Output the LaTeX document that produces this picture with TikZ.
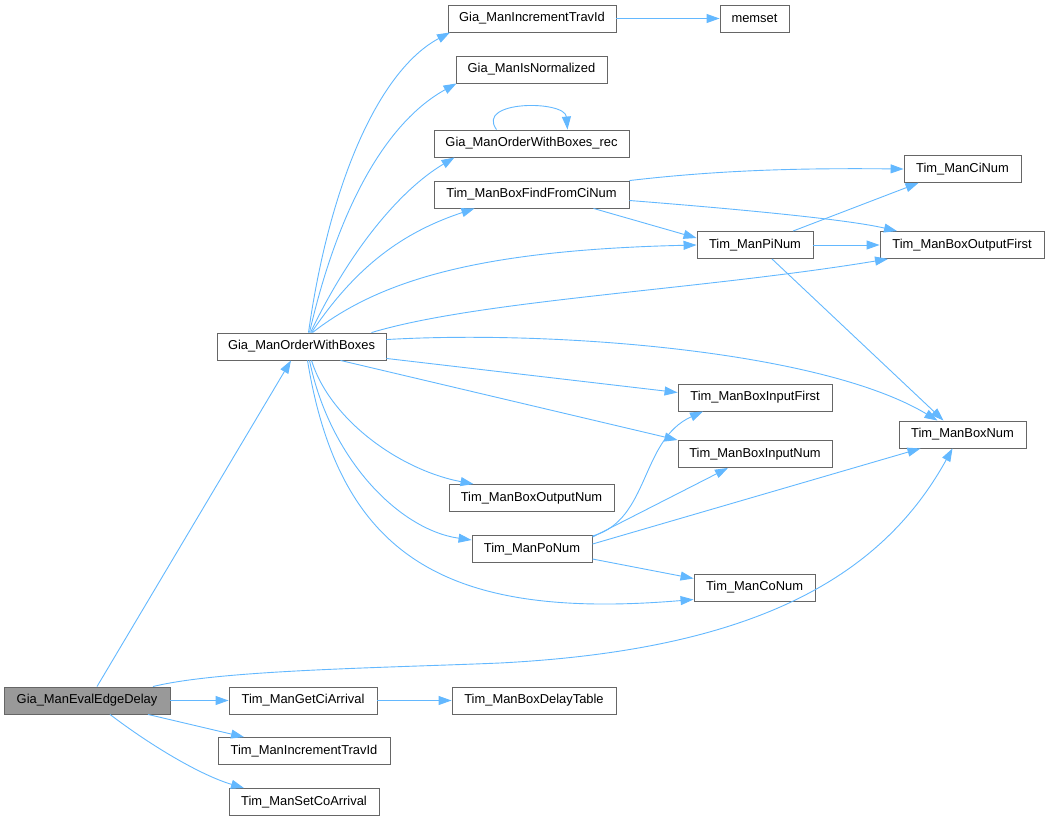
\documentclass[tikz,border=0pt]{standalone}
\usepackage{fontspec}
\setmainfont{Liberation Sans}
\usetikzlibrary{arrows.meta}
\definecolor{edgeblue}{HTML}{63B8FF}
\definecolor{boxline}{HTML}{666666}
\definecolor{rootgray}{HTML}{999999}

\begin{document}
\begin{tikzpicture}[x=1pt, y=-1pt,
  every node/.style={font=\fontsize{12.9}{14}\selectfont, align=center},
  fn/.style={draw=boxline, line width=0.9pt, fill=white, minimum height=27pt, inner sep=0pt},
  call/.style={draw=edgeblue, line width=0.9pt, -{Triangle[length=13pt,width=9pt]}}]
  \useasboundingbox (0,0) rectangle (1049,821);
  % function boxes
  \node[fn, fill=rootgray, minimum width=166pt] (eval) at (87,700.5) {Gia\_ManEvalEdgeDelay};
  \node[fn, minimum width=169pt] (order) at (301.5,346.5) {Gia\_ManOrderWithBoxes};
  \node[fn, minimum width=168pt] (incr) at (532,18.5) {Gia\_ManIncrementTravId};
  \node[fn, minimum width=69pt] (memset) at (754.5,18.5) {memset};
  \node[fn, minimum width=151pt] (isnorm) at (531.5,69.5) {Gia\_ManIsNormalized};
  \node[fn, minimum width=195pt] (rec) at (531.5,143.5) {Gia\_ManOrderWithBoxes\_rec};
  \node[fn, minimum width=195pt] (findci) at (531.5,194.5) {Tim\_ManBoxFindFromCiNum};
  \node[fn, minimum width=117pt] (cinum) at (962.5,169) {Tim\_ManCiNum};
  \node[fn, minimum width=116pt] (pinum) at (755,245) {Tim\_ManPiNum};
  \node[fn, minimum width=164pt] (boxoutfirst) at (962,245) {Tim\_ManBoxOutputFirst};
  \node[fn, minimum width=154pt] (boxinfirst) at (755,397.5) {Tim\_ManBoxInputFirst};
  \node[fn, minimum width=127pt] (boxnum) at (962.5,434.5) {Tim\_ManBoxNum};
  \node[fn, minimum width=154pt] (boxinnum) at (755,454) {Tim\_ManBoxInputNum};
  \node[fn, minimum width=165pt] (boxoutnum) at (531.5,498) {Tim\_ManBoxOutputNum};
  \node[fn, minimum width=120pt] (ponum) at (532,549) {Tim\_ManPoNum};
  \node[fn, minimum width=121pt] (conum) at (754.5,587.5) {Tim\_ManCoNum};
  \node[fn, minimum width=148pt] (getci) at (303,700.5) {Tim\_ManGetCiArrival};
  \node[fn, minimum width=164pt] (delaytab) at (534,700.5) {Tim\_ManBoxDelayTable};
  \node[fn, minimum width=172pt] (incrtim) at (304,751) {Tim\_ManIncrementTravId};
  \node[fn, minimum width=150pt] (setco) at (304,802) {Tim\_ManSetCoArrival};
  % calls from the root
  \draw[call] ([xshift=10pt]eval.north) -- ([xshift=-10.5pt]order.south);
  \draw[call] ([xshift=66pt]eval.north) .. controls (220,670) and (380,668) .. (500,663)
    .. controls (750,650) and (880,580) .. ([xshift=-10pt]boxnum.south);
  \draw[call] (eval.east) -- (getci.west);
  \draw[call] ([xshift=61pt]eval.south) -- ([xshift=-60pt]incrtim.north);
  \draw[call] ([xshift=23pt]eval.south) .. controls (150,745) and (200,775) .. ([xshift=-60pt]setco.north);
  \draw[call] (getci.east) -- (delaytab.west);
  % calls from Gia_ManOrderWithBoxes
  \draw[call] ([xshift=7pt]order.north) .. controls (330,180) and (380,70) .. ([xshift=-82pt]incr.south);
  \draw[call] ([xshift=8pt]order.north) .. controls (340,200) and (390,120) .. ([xshift=-75pt]isnorm.south);
  \draw[call] ([xshift=9pt]order.north) .. controls (350,250) and (400,190) .. ([xshift=-77pt]rec.south);
  \draw[call] ([xshift=10pt]order.north) .. controls (360,260) and (410,230) .. ([xshift=-57pt]findci.south);
  \draw[call] ([xshift=11pt]order.north) .. controls (380,280) and (480,250) .. (pinum.west);
  \draw[call] ([xshift=70pt]order.north) .. controls (480,300) and (700,290) .. ([xshift=-74pt]boxoutfirst.south);
  \draw[call] ([yshift=-7pt]order.north east) .. controls (550,330) and (820,350) .. ([xshift=-25pt]boxnum.north);
  \draw[call] ([yshift=2pt]order.south east) -- ([yshift=5pt]boxinfirst.west);
  \draw[call] ([xshift=39pt]order.south) -- (boxinnum.north west);
  \draw[call] ([xshift=10pt]order.south) .. controls (330,420) and (400,470) .. ([xshift=-58pt]boxoutnum.north);
  \draw[call] ([xshift=8pt]order.south) .. controls (330,460) and (400,530) .. ([yshift=9pt]ponum.west);
  \draw[call] ([xshift=6pt]order.south) .. controls (340,560) and (450,620) .. ([yshift=-12pt]conum.west);
  % other calls
  \draw[call] (incr.east) -- (memset.west);
  \draw[call] ([xshift=-35pt]rec.north) .. controls (475,100) and (565,100) .. ([xshift=36pt]rec.north);
  \draw[call] (findci.north east) .. controls (720,170) and (800,168) .. (cinum.west);
  \draw[call] ([yshift=-6pt]findci.east) .. controls (750,210) and (850,220) .. ([xshift=-65pt]boxoutfirst.north);
  \draw[call] ([xshift=62pt]findci.south) -- ([yshift=7pt]pinum.west);
  \draw[call] ([xshift=38pt]pinum.north) -- ([xshift=-44pt]cinum.south);
  \draw[call] (pinum.east) -- (boxoutfirst.west);
  \draw[call] ([xshift=17pt]pinum.south) -- ([xshift=-19pt]boxnum.north);
  \draw[call] ([yshift=-1pt]ponum.north east) .. controls (650,520) and (640,440) .. ([xshift=-52pt]boxinfirst.south);
  \draw[call] ([yshift=-2pt]ponum.north east) -- ([xshift=-27pt]boxinnum.south);
  \draw[call] ([yshift=-9pt]ponum.north east) -- ([xshift=-42pt]boxnum.south);
  \draw[call] ([yshift=-10pt]ponum.east) -- ([yshift=9pt]conum.west);
\end{tikzpicture}
\end{document}
